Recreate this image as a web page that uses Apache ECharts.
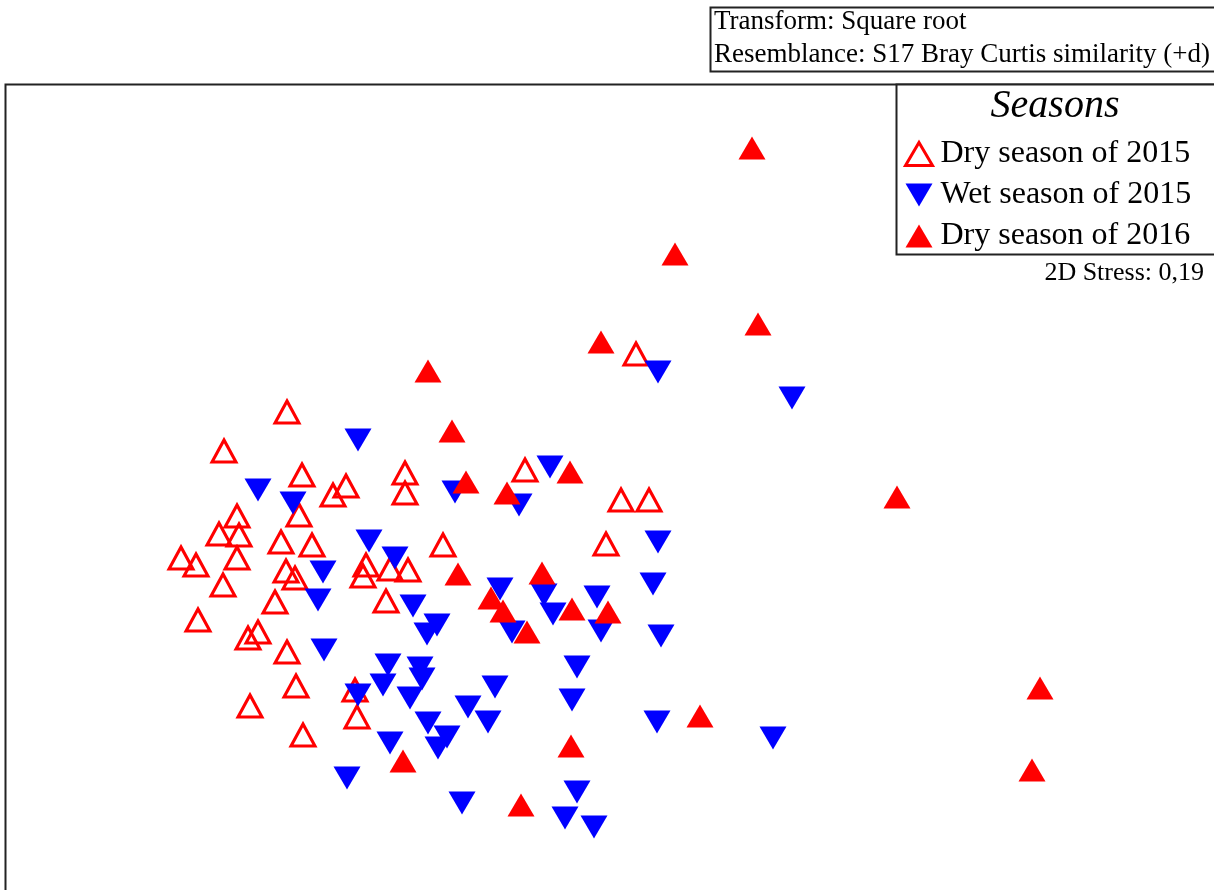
<!DOCTYPE html>
<html>
<head>
<meta charset="utf-8">
<title>nMDS – Seasons</title>
<script src="https://cdn.jsdelivr.net/npm/echarts@6/dist/echarts.min.js"></script>
<style>
  html, body { margin: 0; padding: 0; background: #fff; }
  #chart { width: 1214px; height: 890px; }
</style>
</head>
<body>
<div id="chart"></div>
<script>
// nMDS ordination coordinates (MDS1, MDS2) per sample, grouped by season
const drySeason2015 = [
  [-3.13, 0.68], [-3.76, 0.29], [-2.98, 0.05], [-2.54, -0.06], [-2.67, -0.15],
  [-1.95, 0.07], [-1.95, -0.13], [-0.75, 0.10], [0.36, 1.26], [0.21, -0.20],
  [0.49, -0.20], [-3.01, -0.35], [-3.63, -0.36], [-3.81, -0.54], [-3.61, -0.55],
  [-3.19, -0.62], [-2.88, -0.65], [-3.63, -0.78], [-4.19, -0.78], [-4.04, -0.85],
  [-3.14, -0.91], [-3.05, -0.98], [-3.77, -1.05], [-3.25, -1.22], [-4.02, -1.40],
  [-3.42, -1.52], [-3.52, -1.58], [-3.13, -1.72], [-3.04, -2.06], [-3.50, -2.26],
  [-2.97, -2.55], [-2.45, -2.10], [-2.43, -2.37], [-2.34, -0.85], [-2.37, -0.96],
  [-2.10, -0.89], [-1.92, -0.90], [-2.14, -1.21], [-1.57, -0.65], [0.06, -0.64]
];
const wetSeason2015 = [
  [-2.42, 0.40], [-3.42, -0.10], [-3.07, -0.23], [-1.45, -0.12], [-0.81, -0.25],
  [-0.50, 0.13], [-2.31, -0.61], [-2.05, -0.78], [-2.77, -0.92], [-2.82, -1.20],
  [-1.87, -1.26], [-1.63, -1.45], [-1.73, -1.54], [-1.00, -1.09], [-0.56, -1.15],
  [-0.47, -1.34], [-0.88, -1.52], [-0.03, -1.17], [0.01, -1.51], [0.58, -0.62],
  [0.53, -1.04], [0.61, -1.56], [-0.23, -1.87], [-0.28, -2.20], [0.57, -2.42],
  [1.73, -2.58], [-2.76, -1.70], [-2.12, -1.85], [-2.17, -2.05], [-1.80, -1.88],
  [-1.78, -1.99], [-1.90, -2.18], [-2.42, -2.15], [-1.05, -2.07], [-1.32, -2.27],
  [-1.12, -2.42], [-1.72, -2.43], [-1.53, -2.57], [-1.62, -2.68], [-2.10, -2.63],
  [-2.53, -2.98], [-1.38, -3.23], [-0.23, -3.12], [-0.35, -3.38], [-0.06, -3.47],
  [0.58, 1.08], [1.92, 0.82]
];
const drySeason2016 = [
  [1.52, 3.32], [0.75, 2.26], [1.58, 1.56], [0.01, 1.38], [-1.72, 1.09],
  [-1.48, 0.49], [-1.34, -0.02], [-0.93, -0.13], [-0.30, 0.08], [-1.42, -0.94],
  [-0.58, -0.93], [-1.09, -1.18], [-0.97, -1.31], [-0.73, -1.52], [-0.28, -1.29],
  [0.08, -1.32], [-0.29, -2.66], [-1.97, -2.81], [-0.79, -3.25], [1.00, -2.36],
  [2.97, -0.17], [4.40, -2.08], [4.32, -2.90]
];
const seasonNames = ['Dry season of 2015', 'Wet season of 2015', 'Dry season of 2016'];
const headerLines = ['Transform: Square root', 'Resemblance: S17 Bray Curtis similarity (+d)'];
const legendTitle = 'Seasons';
const stressText = '2D Stress: 0,19';

const RED = '#ff0000';
const BLUE = '#0000ff';
const SERIF = '"Liberation Serif", "Times New Roman", serif';
const DOWN_TRIANGLE = 'path://M0,0 L2,0 L1,1.7 Z';
const OPEN_STYLE = { color: 'rgba(0,0,0,0)', borderColor: RED, borderWidth: 3, opacity: 1 };

const chart = echarts.init(document.getElementById('chart'), null, { renderer: 'canvas' });

chart.setOption({
  backgroundColor: '#ffffff',
  animation: false,
  grid: { left: 0, top: 0, right: 0, bottom: 0 },
  xAxis: { type: 'value', min: -6.0, max: 6.14, show: false, splitLine: { show: false } },
  yAxis: { type: 'value', min: -4.10, max: 4.80, show: false, splitLine: { show: false } },
  legend: {
    orient: 'vertical',
    left: 904,
    top: 138,
    padding: 0,
    itemWidth: 27,
    itemHeight: 23,
    itemGap: 9,
    textStyle: { fontFamily: SERIF, fontSize: 32, color: '#000', padding: [0, 0, 0, 3] },
    data: [
      { name: seasonNames[0], icon: 'triangle', itemStyle: OPEN_STYLE },
      { name: seasonNames[1], icon: DOWN_TRIANGLE, itemStyle: { color: BLUE, opacity: 1 } },
      { name: seasonNames[2], icon: 'triangle', itemStyle: { color: RED, opacity: 1 } }
    ],
    selectedMode: false,
    z: 20
  },
  graphic: [
    // plot frame
    { type: 'rect', z: -10, silent: true,
      shape: { x: 5.5, y: 84.5, width: 1300, height: 900 },
      style: { fill: 'none', stroke: '#222', lineWidth: 2 } },
    // header box
    { type: 'rect', z: 5, silent: true,
      shape: { x: 710.5, y: 7.5, width: 600, height: 64 },
      style: { fill: '#fff', stroke: '#222', lineWidth: 2 } },
    { type: 'text', z: 6, x: 714, y: 22, silent: true,
      style: { text: headerLines[0], font: '27px ' + SERIF, fill: '#000', textVerticalAlign: 'middle' } },
    { type: 'text', z: 6, x: 714, y: 55, silent: true,
      style: { text: headerLines[1], font: '27px ' + SERIF, fill: '#000', textVerticalAlign: 'middle' } },
    // legend box
    { type: 'rect', z: 5, silent: true,
      shape: { x: 896.5, y: 84.5, width: 400, height: 170 },
      style: { fill: '#fff', stroke: '#222', lineWidth: 2 } },
    { type: 'text', z: 6, silent: true, x: 1055, y: 106,
      style: { text: legendTitle, font: 'italic 40px ' + SERIF, fill: '#000',
               textAlign: 'center', textVerticalAlign: 'middle' } },
    // stress value
    { type: 'text', z: 6, silent: true, x: 1204, y: 273,
      style: { text: stressText, font: '26px ' + SERIF, fill: '#000',
               textAlign: 'right', textVerticalAlign: 'middle' } }
  ],
  series: [
    {
      name: seasonNames[0],
      type: 'scatter',
      data: drySeason2015,
      symbol: 'triangle',
      symbolSize: [24, 22],
      itemStyle: OPEN_STYLE,
      z: 2
    },
    {
      name: seasonNames[1],
      type: 'scatter',
      data: wetSeason2015,
      symbol: DOWN_TRIANGLE,
      symbolSize: [27, 23],
      symbolKeepAspect: false,
      itemStyle: { color: BLUE, opacity: 1 },
      z: 3
    },
    {
      name: seasonNames[2],
      type: 'scatter',
      data: drySeason2016,
      symbol: 'triangle',
      symbolSize: [27, 23],
      itemStyle: { color: RED, opacity: 1 },
      z: 4
    }
  ]
});
</script>
</body>
</html>
